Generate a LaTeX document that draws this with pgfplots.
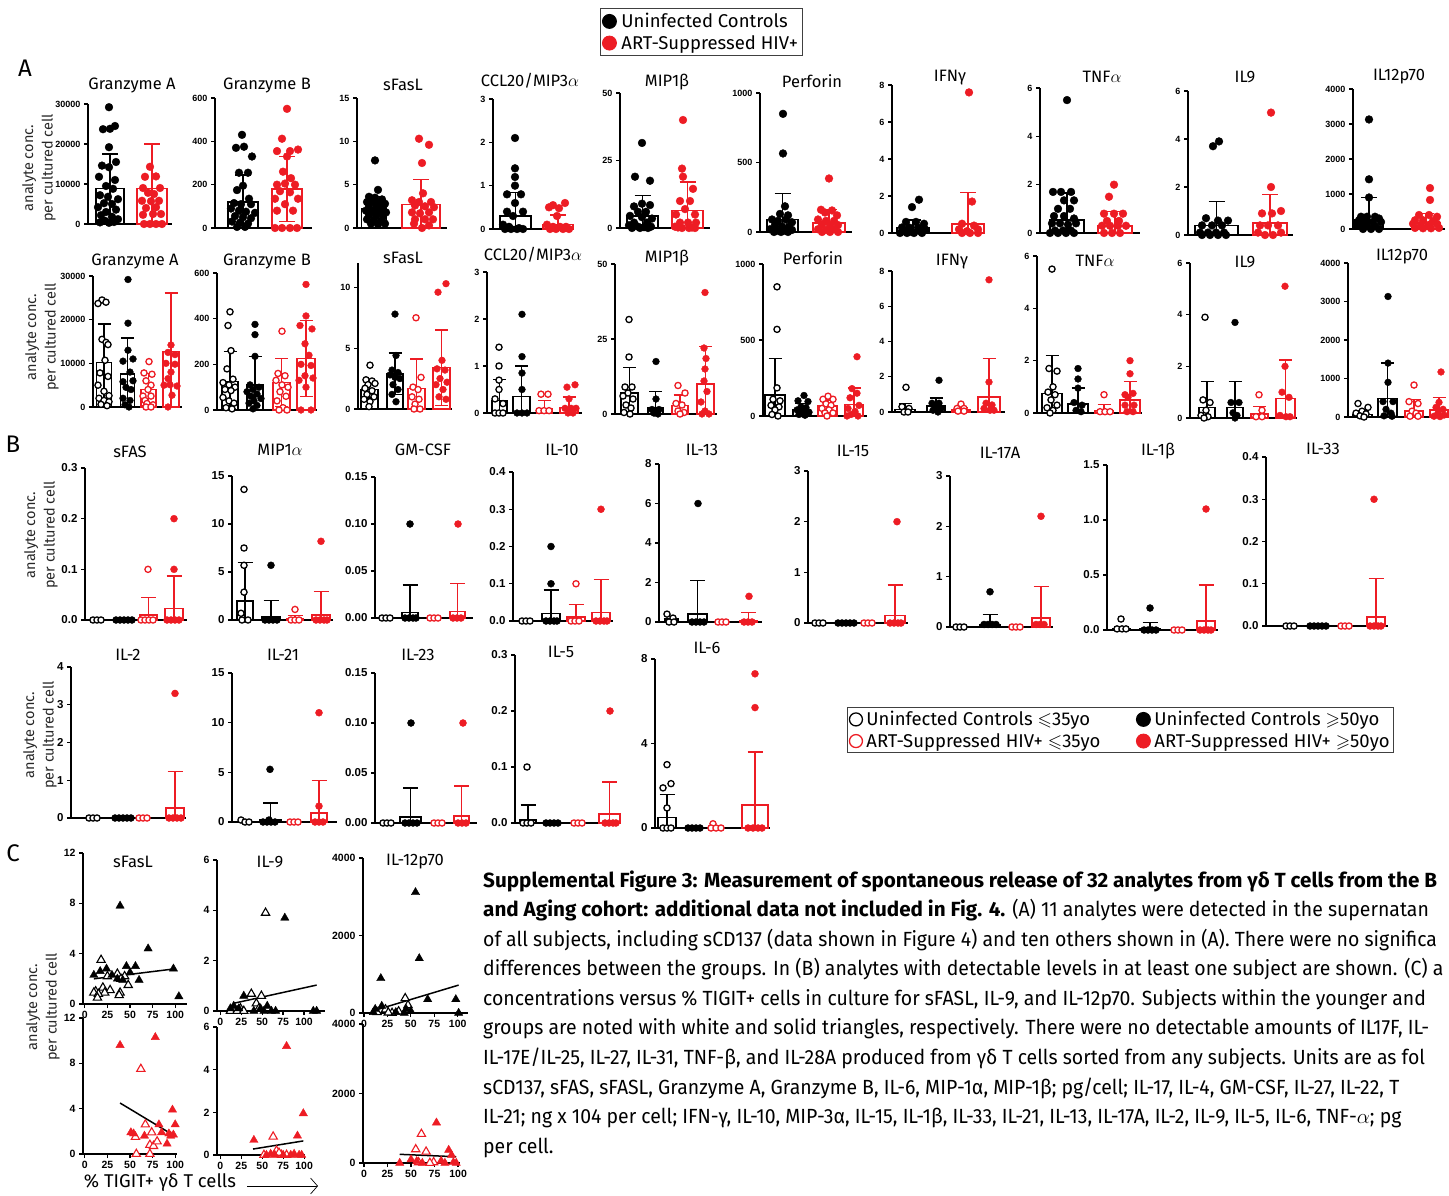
\documentclass[border=0pt]{standalone}
\usepackage{amssymb}
\usepackage{fontspec}
\usepackage{pgfplots}
\pgfplotsset{compat=1.18}
\usetikzlibrary{arrows.meta}
\setmainfont{Fira Sans}
\newfontfamily\tickf{Liberation Sans}
\newfontfamily\capf[FakeStretch=0.948, BoldFeatures={FakeStretch=1.008}]{Fira Sans}
\definecolor{myred}{RGB}{237,28,36}
\newcommand\tA{\tickf\bfseries\fontsize{9}{9}\selectfont}
\newcommand\tB{\tickf\bfseries\fontsize{11.5}{11.5}\selectfont}
\newcommand\tC{\tickf\bfseries\fontsize{10.5}{10.5}\selectfont}
\newcommand\ttl{\fontsize{16.5}{16.5}\selectfont}
\newcommand\ylab{\fontsize{14.5}{19.5}\selectfont}
\newcommand\legf{\fontsize{18.5}{20}\selectfont}
\newcommand\capfont{\capf\fontsize{20.5}{24}\selectfont}
\def\capsz{8pt}
\def\ms{3.9pt}
\def\mo{3.2pt}
\pgfplotsset{
 base/.style={scale only axis, anchor=south west, axis lines*=left, axis line style={line width=1.4pt, black}, tick align=outside, major tick length=4pt, every tick/.style={line width=1.3pt, black}, clip=false, ymin=0, scaled y ticks=false, scaled x ticks=false, /pgf/number format/assume math mode=true},
 pA/.style={base, xtick=\empty, yticklabel style={font=\tA}},
 pB/.style={base, xtick=\empty, yticklabel style={font=\tB}},
 pC/.style={base, xtick={0,25,50,75,100}, yticklabel style={font=\tC}, xticklabel style={font=\tC}},
 bp/.style n args={4}{at={(#1pt,-#2pt)}, width=#3pt, height=#4pt, xmin=0, xmax=#3},
 kb/.style={ybar, bar shift=0pt, draw=black, fill=white, line width=1.6pt, error bars/y dir=both, error bars/y explicit, error bars/error mark=|, error bars/error bar style={line width=1.3pt, black}, error bars/error mark options={line width=1.3pt, black, mark size=\capsz}},
 rb/.style={ybar, bar shift=0pt, draw=myred, fill=white, line width=1.6pt, error bars/y dir=both, error bars/y explicit, error bars/error mark=|, error bars/error bar style={line width=1.3pt, myred}, error bars/error mark options={line width=1.3pt, myred, mark size=\capsz}},
 kf/.style={only marks, mark=*, mark size=\ms, mark options={draw=black, fill=black}},
 ko/.style={only marks, mark=*, mark size=\mo, mark options={draw=black, fill=white, line width=1.3pt}},
 rf/.style={only marks, mark=*, mark size=\ms, mark options={draw=myred, fill=myred}},
 ro/.style={only marks, mark=*, mark size=\mo, mark options={draw=myred, fill=white, line width=1.3pt}},
 tkf/.style={only marks, mark=triangle*, mark size=4.8pt, mark options={draw=black, fill=black}},
 tko/.style={only marks, mark=triangle*, mark size=4.8pt, mark options={draw=black, fill=white, line width=1.1pt}},
 trf/.style={only marks, mark=triangle*, mark size=4.8pt, mark options={draw=myred, fill=myred}},
 tro/.style={only marks, mark=triangle*, mark size=4.8pt, mark options={draw=myred, fill=white, line width=1.1pt}},
 lC/.style={black, line width=1.5pt, no marks},
}
\newcommand\KB[5]{\addplot[kb,bar width=#2pt] coordinates {(#1,#3) += (0,#4) -= (0,#5)};}
\newcommand\RB[5]{\addplot[rb,bar width=#2pt] coordinates {(#1,#3) += (0,#4) -= (0,#5)};}
\newcommand\KF[1]{\addplot[kf] coordinates {#1};}
\newcommand\KO[1]{\addplot[ko] coordinates {#1};}
\newcommand\RF[1]{\addplot[rf] coordinates {#1};}
\newcommand\RO[1]{\addplot[ro] coordinates {#1};}
\begin{document}
\begin{tikzpicture}[x=1pt,y=1pt]
\path[use as bounding box] (0,0) rectangle (1449,-1196);
% ================= A row 1 =================
\begin{axis}[pA, bp={88}{224}{84}{120}, ymax=30000, ytick={0,10000,20000,30000}, yticklabels={0,10000,20000,30000}]
\KB{22}{28}{8900}{8600}{8600}
\KF{(21,29200) (27,24500) (15,23700) (22,23800) (21,19200) (28,15500) (14,14600) (21,14200) (11,11800) (27,11000) (18,9500) (25,8800) (12,7200) (20,6800) (30,6200) (16,5200) (24,5000) (10,4200) (28,3600) (18,3000) (13,2200) (24,1800) (30,1200) (17,800) (21,300) (26,500) (12,400)}
\RB{64}{30}{8900}{11100}{8900}
\RF{(62,14300) (57,11800) (68,11900) (55,9000) (72,9000) (60,7800) (66,7500) (54,5800) (63,5700) (71,5800) (58,4000) (68,4200) (55,2300) (65,2500) (73,2500) (56,0) (62,0) (68,0) (74,0)}
\end{axis}
\begin{axis}[pA, bp={215}{228}{97}{130}, ymax=600, ytick={0,200,400,600}, yticklabels={0,200,400,600}]
\KB{28}{30}{120}{125}{120}
\KF{(27,430) (21,370) (29,375) (37,330) (24,255) (33,255) (28,195) (22,175) (34,135) (19,115) (26,110) (36,110) (16,90) (24,80) (31,75) (40,70) (20,55) (28,50) (36,45) (17,30) (25,25) (33,20) (22,5) (30,5)}
\RB{72}{30}{180}{150}{150}
\RF{(72,550) (67,412) (62,355) (75,355) (83,362) (72,330) (68,260) (76,230) (62,200) (70,205) (80,200) (65,170) (75,165) (60,135) (83,135) (70,110) (62,80) (78,80) (60,0) (67,0) (75,0) (82,0)}
\end{axis}
\begin{axis}[pA, bp={357}{228}{90}{130}, ymax=15, ytick={0,5,10,15}, yticklabels={0,5,10,15}]
\KB{17}{25}{2.2}{1.4}{1.4}
\KF{(18,7.8) (21,4.4) (12,3.6) (18,3.5) (25,3.3) (10,3.0) (16,3.0) (22,2.9) (28,2.8) (12,2.5) (20,2.4) (26,2.3) (9,2.0) (15,2.0) (22,1.9) (29,1.8) (12,1.5) (19,1.4) (26,1.3) (10,1.0) (17,0.9) (24,0.8) (14,0.5) (21,0.4) (28,0.5)}
\RB{64}{38}{2.7}{2.9}{2.7}
\RF{(62,10.3) (72,9.6) (65,7.5) (66,4.0) (55,3.2) (62,3.0) (74,3.0) (58,2.6) (68,2.5) (77,2.4) (55,1.8) (63,1.7) (72,1.8) (58,1.0) (68,1.0) (76,1.0) (57,0.5) (65,0) (72,0.3)}
\end{axis}
\begin{axis}[pA, bp={493}{229}{80}{130}, ymax=3, ytick={0,1,2,3}, yticklabels={0,1,2,3}]
\KB{22.5}{31}{0.3}{0.55}{0.3}
\KF{(22,2.1) (22,1.4) (22,1.2) (22,1.0) (14,0.8) (28,0.8) (22,0.6) (14,0.4) (30,0.4) (20,0.3) (10,0.1) (16,0.05) (24,0) (30,0) (12,0) (18,0) (26,0.02)}
\RB{65}{30}{0.1}{0.22}{0.1}
\RF{(60,0.55) (72,0.6) (56,0.5) (66,0.48) (64,0.3) (54,0.1) (60,0.05) (67,0.05) (73,0.05) (57,0) (63,0) (70,0) (76,0)}
\end{axis}
\begin{axis}[pA, bp={620}{228}{90}{135}, ymax=50, ytick={0,25,50}, yticklabels={0,25,50}]
\KB{22.5}{31}{4.5}{7.5}{4.5}
\KF{(22,31.5) (15,19) (30,17.5) (22,9) (14,8) (30,8.5) (18,6) (26,6) (10,4.5) (22,4) (32,3.5) (14,2) (27,2) (9,1) (18,0.5) (24,0.3) (31,0.5) (12,0) (20,0) (28,0)}
\RB{67.5}{31}{6.5}{10.5}{6.5}
\RF{(63,40) (62,22) (63,19) (73,14.5) (60,10) (70,10) (65,7) (56,5) (75,5) (60,2) (68,2) (76,2) (55,0.5) (62,0) (69,0) (75,0) (58,0.2) (72,0.2)}
\end{axis}
\begin{axis}[pA, bp={760}{232}{92}{139}, ymax=1000, ytick={0,500,1000}, yticklabels={0,500,1000}]
\KB{22.5}{31}{90}{185}{90}
\KF{(23,850) (23,565) (25,185) (20,130) (28,120) (12,90) (18,80) (26,90) (32,70) (15,50) (22,40) (29,40) (10,20) (17,10) (25,10) (32,15) (14,0) (21,0) (28,0)}
\RB{69}{32}{65}{95}{65}
\RF{(69,385) (61,160) (72,155) (65,140) (77,120) (58,90) (66,80) (74,80) (62,55) (70,50) (78,50) (58,20) (66,15) (74,20) (62,0) (70,0) (78,0)}
\end{axis}
\begin{axis}[pA, bp={892}{233}{93}{148}, ymax=8, ytick={0,2,4,6,8}, yticklabels={0,2,4,6,8}]
\KB{21}{32}{0.3}{0.4}{0.3}
\KF{(27,1.8) (20,1.4) (14,0.6) (24,0.6) (32,0.5) (10,0.3) (17,0.3) (26,0.3) (33,0.2) (12,0.1) (20,0.05) (28,0.1) (8,0) (15,0) (22,0) (30,0)}
\RB{76}{32}{0.5}{1.7}{0.5}
\RF{(77,7.6) (80,1.7) (70,0.5) (82,0.4) (67,0.2) (75,0.1) (86,0.2) (70,0) (78,0) (86,0)}
\end{axis}
\begin{axis}[pA, bp={1040}{233}{100}{145}, ymax=6, ytick={0,2,4,6}, yticklabels={0,2,4,6}]
\KB{27}{34}{0.55}{1.1}{0.55}
\KF{(27,5.5) (13,1.7) (21,1.7) (31,1.7) (24,1.35) (34,1.35) (18,1.0) (30,1.0) (14,0.7) (24,0.7) (34,0.6) (12,0.4) (20,0.4) (28,0.35) (36,0.4) (15,0.1) (23,0.1) (31,0.1) (10,0) (18,0) (26,0) (34,0)}
\RB{75}{34}{0.3}{0.6}{0.3}
\RF{(74,2.0) (69,1.5) (64,0.8) (74,0.8) (83,0.8) (67,0.5) (79,0.5) (62,0.3) (70,0.3) (78,0.3) (86,0.3) (64,0) (72,0) (80,0)}
\end{axis}
\begin{axis}[pA, bp={1188}{235}{105}{144}, ymax=6, ytick={0,2,4,6}, yticklabels={0,2,4,6}]
\KB{28.5}{43}{0.4}{1.0}{0.4}
\KF{(25,3.7) (31,3.9) (18,0.7) (30,0.6) (40,0.6) (14,0.4) (24,0.4) (34,0.4) (12,0.1) (20,0.1) (28,0.1) (36,0.1) (14,0) (22,0) (30,0) (38,0)}
\RB{82}{34}{0.5}{1.2}{0.5}
\RF{(83,5.1) (83,2.0) (74,0.9) (84,0.9) (93,1.0) (72,0.4) (80,0.4) (90,0.4) (70,0.1) (77,0) (85,0) (93,0.1)}
\end{axis}
\begin{axis}[pA, bp={1353}{229}{92}{140}, ymax=4000, ytick={0,1000,2000,3000,4000}, yticklabels={0,1000,2000,3000,4000}]
\KB{16}{28}{250}{650}{250}
\KF{(16,3130) (16,1420) (16,900) (8,350) (14,350) (22,350) (26,300) (6,250) (12,200) (20,200) (28,200) (6,100) (14,80) (22,80) (10,0) (18,0) (26,0)}
\RB{73}{28}{170}{270}{170}
\RF{(77,1170) (77,830) (66,400) (76,400) (84,350) (62,250) (70,250) (80,230) (60,150) (68,120) (76,120) (84,150) (62,30) (70,20) (78,20) (86,30)}
\end{axis}
% ================= A row 2 =================
\def\capsz{6.5pt}
\def\ms{3.4pt}
\def\mo{3.1pt}
\begin{axis}[pA, bp={93}{407}{89}{131}, ymax=30000, ytick={0,10000,20000,30000}, yticklabels={0,10000,20000,30000}]
\KB{11}{15}{10200}{8800}{8800}
\KO{(9,24500) (5,23700) (13,24000) (9,15500) (13,14800) (15,14300) (12,10700) (7,7800) (15,7000) (5,5000) (11,3600) (16,2600) (6,2000) (11,1500) (16,1200) (8,600) (14,300)}
\KB{34.5}{14}{7500}{8300}{7500}
\KF{(35,29200) (35,19200) (35,13000) (40,11000) (30,10500) (37,8000) (30,5800) (40,6000) (33,4500) (38,4000) (30,2000) (37,1500) (32,500) (36,0)}
\RB{55.5}{15}{4000}{3700}{3700}
\RO{(56,10400) (51,7800) (59,7500) (53,6000) (58,5000) (55,4000) (50,2500) (58,2500) (52,1500) (54,800) (60,500) (53,0) (58,0)}
\RB{78}{16}{12700}{13400}{12700}
\RF{(78,14200) (75,12500) (82,12000) (73,10000) (82,9800) (78,8000) (75,6500) (71,5000) (84,4800) (77,5100) (79,2700) (75,0)}
\end{axis}
\begin{axis}[pA, bp={217}{410}{100}{137}, ymax=600, ytick={0,200,400,600}, yticklabels={0,200,400,600}]
\KB{13}{16}{125}{130}{125}
\KO{(13,430) (11,370) (14,260) (10,180) (16,135) (6,120) (12,110) (18,100) (8,90) (14,85) (6,55) (12,40) (17,30) (9,10) (15,5)}
\KB{38}{16}{110}{125}{110}
\KF{(38,375) (38,330) (38,235) (33,110) (42,100) (36,90) (30,80) (40,70) (34,60) (44,50) (37,40) (32,30) (40,20) (36,5)}
\RB{64.5}{17}{120}{105}{105}
\RO{(65,345) (61,160) (68,150) (59,130) (65,110) (71,100) (63,80) (69,60) (60,40) (66,10) (62,0) (70,0)}
\RB{89}{18}{225}{168}{165}
\RF{(89,550) (89,412) (83,370) (95,355) (88,290) (92,240) (84,200) (94,195) (88,150) (82,130) (96,140) (89,100) (84,0) (94,0)}
\end{axis}
\begin{axis}[pA, bp={358}{409}{94}{146}, ymax=12, ytick={0,5,10}, yticklabels={0,5,10}]
\KB{11.5}{17}{1.6}{0.7}{0.7}
\KO{(12,3.6) (8,2.4) (14,2.3) (17,2.1) (10,2.0) (7,1.7) (14,1.5) (9,1.2) (16,1.0) (6,0.8) (12,0.6) (11,0.2)}
\KB{37}{16}{2.9}{1.7}{1.7}
\KF{(37,7.8) (38,4.4) (34,3.2) (40,3.0) (32,2.8) (37,2.6) (42,2.5) (35,2.0) (40,1.6) (34,1.2) (38,0.6)}
\RB{58.5}{17}{1.7}{2.4}{1.7}
\RO{(58,7.5) (63,2.6) (55,1.8) (60,1.6) (54,1.0) (61,0.8) (57,0.4) (62,0) (56,0)}
\RB{83.5}{17}{3.4}{3.1}{3.1}
\RF{(80,9.6) (88,10.3) (84,4.0) (79,3.3) (87,3.2) (82,2.5) (89,2.2) (78,2.0) (85,1.6) (81,1.0) (88,0.8)}
\end{axis}
\begin{axis}[pA, bp={487}{413}{95}{141}, ymax=3, ytick={0,1,2,3}, yticklabels={0,1,2,3}]
\KB{12.5}{15}{0.27}{0.45}{0.27}
\KO{(12,1.4) (12,1.0) (12,0.7) (12,0.5) (8,0.3) (16,0.2) (8,0) (12,0) (16,0)}
\KB{34.5}{17}{0.35}{0.65}{0.35}
\KF{(35,2.1) (35,1.2) (35,0.85) (35,0.5) (30,0) (35,0) (40,0)}
\RB{57.5}{15}{0.1}{0.17}{0.1}
\RO{(54,0.4) (61,0.4) (52,0.05) (57,0.05) (62,0.05)}
\RB{82}{18}{0.12}{0.22}{0.12}
\RF{(80,0.55) (88,0.6) (82,0.3) (78,0.1) (84,0.1) (89,0.1) (81,0) (86,0)}
\end{axis}
\begin{axis}[pA, bp={615}{414}{102}{150}, ymax=50, ytick={0,25,50}, yticklabels={0,25,50}]
\KB{14.5}{17}{7}{8.5}{7}
\KO{(14,31.5) (14,19) (10,9) (17,9) (13,7) (8,6) (18,5) (11,3) (16,2) (9,0.5) (15,0)}
\KB{40.5}{15}{2.2}{5.2}{2.2}
\KF{(41,17.5) (41,5) (37,1.5) (44,1.5) (39,0.3) (43,0)}
\RB{65}{16}{2.8}{3.5}{2.8}
\RO{(63,9.5) (70,7) (61,3.5) (67,3) (63,1) (69,0.5) (65,0)}
\RB{90.5}{17}{10}{12.5}{10}
\RF{(90,40.5) (89,22) (91,18.5) (90,15) (89,11) (92,7.5) (86,4) (90,1) (94,0) (87,0)}
\end{axis}
\begin{axis}[pA, bp={763}{416}{104}{152}, ymax=1000, ytick={0,500,1000}, yticklabels={0,500,1000}]
\KB{12}{20}{140}{240}{140}
\KO{(14,850) (14,570) (14,185) (10,110) (17,100) (8,70) (16,60) (12,40) (9,10) (15,0)}
\KB{38.5}{17}{40}{40}{40}
\KF{(41,135) (35,100) (45,95) (38,60) (43,55) (34,40) (40,30) (46,25) (36,10) (42,5)}
\RB{64.5}{19}{65}{40}{40}
\RO{(65,130) (60,110) (70,110) (63,80) (68,70) (59,50) (66,40) (62,20) (70,20) (64,0)}
\RB{91}{18}{75}{110}{75}
\RF{(94,390) (89,180) (94,150) (87,120) (96,70) (85,50) (92,30) (88,10) (95,0) (84,0)}
\end{axis}
\begin{axis}[pA, bp={892}{412}{113}{141}, ymax=8, ytick={0,2,4,6,8}, yticklabels={0,2,4,6,8}]
\KB{13}{20}{0.15}{0.35}{0.15}
\KO{(14,1.4) (10,0.3) (17,0.2) (12,0) (16,0)}
\KB{44}{18}{0.35}{0.45}{0.35}
\KF{(47,1.8) (40,0.5) (47,0.5) (43,0.3) (49,0.2) (41,0.1) (46,0)}
\RB{69}{18}{0.1}{0.15}{0.1}
\RO{(69,0.45) (65,0.2) (72,0.2) (66,0.05) (72,0.05)}
\RB{97}{22}{0.85}{2.2}{0.85}
\RF{(97,7.5) (97,1.7) (94,0.5) (100,0.4) (92,0.2) (98,0.1) (102,0.1)}
\end{axis}
\begin{axis}[pA, bp={1037}{413}{105}{157}, ymax=6, ytick={0,2,4,6}, yticklabels={0,2,4,6}]
\KB{15}{20}{0.75}{1.45}{0.75}
\KO{(15,5.5) (12,1.7) (20,1.6) (16,1.0) (11,0.8) (18,0.7) (14,0.5) (20,0.3) (10,0.2) (16,0.1) (13,0)}
\KB{41}{20}{0.35}{0.6}{0.35}
\KF{(41,1.7) (41,1.3) (41,0.95) (37,0.4) (45,0.3) (39,0.1) (44,0.05)}
\RB{67}{18}{0.1}{0.22}{0.1}
\RO{(67,0.7) (63,0.05) (68,0.05) (73,0.05)}
\RB{93}{20}{0.5}{0.7}{0.5}
\RF{(93,2.0) (93,1.5) (88,0.7) (96,0.75) (91,0.6) (88,0.3) (97,0.3) (90,0.05) (96,0.05)}
\end{axis}
\begin{axis}[pA, bp={1190}{418}{107}{155}, ymax=6, ytick={0,2,4,6}, yticklabels={0,2,4,6}]
\KB{17}{16}{0.4}{1.0}{0.4}
\KO{(15,3.9) (13,0.7) (20,0.6) (16,0.3) (11,0.1) (18,0.05) (14,0)}
\KB{45}{16}{0.4}{1.0}{0.4}
\KF{(45,3.7) (41,0.6) (49,0.6) (43,0.2) (47,0.1) (45,0)}
\RB{69.5}{17}{0.15}{0.3}{0.15}
\RO{(69,0.9) (72,0.3) (66,0.05) (72,0.05)}
\RB{95.5}{19}{0.75}{1.5}{0.75}
\RF{(95,5.1) (95,2.0) (92,1.0) (99,0.8) (90,0.1) (96,0.05) (100,0.05)}
\end{axis}
\begin{axis}[pA, bp={1348}{417}{101}{154}, ymax=4000, ytick={0,1000,2000,3000,4000}, yticklabels={0,1000,2000,3000,4000}]
\KB{14.5}{19}{60}{100}{60}
\KO{(10,350) (20,250) (14,150) (8,100) (18,80) (12,30) (16,0)}
\KB{39.5}{19}{480}{920}{480}
\KF{(40,3130) (40,1400) (40,900) (35,400) (45,400) (38,200) (43,100) (36,30) (44,20)}
\RB{66}{18}{160}{290}{160}
\RO{(66,830) (61,400) (70,350) (64,150) (68,100) (62,20) (70,20)}
\RB{91}{18}{180}{330}{180}
\RF{(93,1170) (91,380) (88,250) (95,200) (90,100) (96,50) (86,20) (92,10)}
\end{axis}
% ================= B row 1 =================
\def\capsz{7.5pt}
\def\ms{3.5pt}
\def\mo{3.1pt}
\begin{axis}[pB, bp={85}{620}{102}{152}, ymax=0.3, ytick={0,0.1,0.2,0.3}, yticklabels={0.0,0.1,0.2,0.3}]
\KO{(8,0) (12,0) (16,0)}
\KF{(31,0) (35,0) (39,0) (43,0) (47,0)}
\RB{63.5}{17}{0.01}{0.034}{0.01}
\RO{(63,0.1) (56,0) (60,0) (64,0) (68,0)}
\RB{89}{18}{0.023}{0.064}{0.023}
\RF{(89,0.2) (89,0.1) (82,0) (86,0) (90,0) (94,0)}
\end{axis}
\begin{axis}[pB, bp={232}{620}{101}{144}, ymax=15, ytick={0,5,10,15}, yticklabels={0,5,10,15}]
\KB{13}{16}{2.0}{4.0}{2.0}
\KO{(12,13.6) (12,7.5) (12,5.7) (12,2.9) (9,0.7) (10,0) (16,0)}
\KB{39}{18}{0.35}{1.65}{0.35}
\KF{(39,5.7) (33,0) (37,0) (41,0) (45,0)}
\RB{63}{16}{0.1}{0.35}{0.1}
\RO{(63,1.1) (59,0) (63,0) (67,0)}
\RB{89}{18}{0.5}{2.5}{0.5}
\RF{(89,8.2) (84,0) (88,0) (92,0) (95,0)}
\end{axis}
\begin{axis}[pB, bp={375}{618}{98}{141}, ymax=0.15, ytick={0,0.05,0.1,0.15}, yticklabels={0.00,0.05,0.10,0.15}]
\KO{(7,0) (11,0) (15,0)}
\KB{35}{16}{0.006}{0.029}{0.006}
\KF{(35,0.1) (30,0) (34,0) (38,0) (41,0)}
\RO{(55,0) (59,0) (63,0)}
\RB{82.5}{15}{0.007}{0.030}{0.007}
\RF{(83,0.1) (78,0) (82,0) (86,0)}
\end{axis}
\begin{axis}[pB, bp={513}{621}{100}{149}, ymax=0.4, ytick={0,0.1,0.2,0.3,0.4}, yticklabels={0.0,0.1,0.2,0.3,0.4}]
\KO{(9,0) (13,0) (17,0)}
\KB{38}{18}{0.02}{0.063}{0.02}
\KF{(38,0.2) (38,0.1) (33,0) (37,0) (41,0) (44,0)}
\RB{63}{18}{0.01}{0.035}{0.01}
\RO{(63,0.1) (58,0) (62,0) (66,0)}
\RB{88}{18}{0.023}{0.088}{0.023}
\RF{(88,0.3) (83,0) (87,0) (91,0) (94,0)}
\end{axis}
\begin{axis}[pB, bp={659}{622}{103}{158}, ymax=8, ytick={0,2,4,6,8}, yticklabels={0,2,4,6,8}]
\KB{12}{12}{0.1}{0.05}{0.05}
\KO{(8,0.4) (14,0.2) (10,0) (15,0)}
\KB{38.5}{19}{0.4}{1.7}{0.4}
\KF{(39,6.0) (33,0) (37,0) (41,0) (45,0)}
\RO{(59,0) (63,0) (67,0)}
\RB{89.5}{17}{0.08}{0.4}{0.08}
\RF{(90,1.3) (85,0) (89,0) (93,0)}
\end{axis}
\begin{axis}[pB, bp={808}{623}{100}{152}, ymax=3, ytick={0,1,2,3}, yticklabels={0,1,2,3}]
\KO{(7,0) (11,0) (15,0)}
\KF{(30,0) (34,0) (38,0) (42,0) (46,0)}
\RO{(56,0) (60,0) (64,0)}
\RB{87}{20}{0.15}{0.6}{0.15}
\RF{(89,2.0) (82,0) (86,0) (90,0) (93,0)}
\end{axis}
\begin{axis}[pB, bp={950}{627}{103}{151}, ymax=3, ytick={0,1,2,3}, yticklabels={0,1,2,3}]
\KO{(6,0) (10,0) (14,0)}
\KB{40}{20}{0.05}{0.2}{0.05}
\KF{(40,0.7) (34,0.05) (38,0.05) (42,0.05) (46,0.05)}
\RO{(62,0) (66,0) (70,0)}
\RB{91}{18}{0.18}{0.63}{0.18}
\RF{(91,2.2) (86,0.05) (90,0.05) (94,0.05)}
\end{axis}
\begin{axis}[pB, bp={1107}{630}{111}{165}, ymax=1.5, ytick={0,0.5,1,1.5}, yticklabels={0.0,0.5,1.0,1.5}]
\KB{14.5}{17}{0.01}{0.02}{0.01}
\KO{(14,0.1) (10,0.01) (15,0.01) (19,0.01)}
\KB{43}{20}{0.01}{0.06}{0.01}
\KF{(43,0.2) (37,0) (41,0) (45,0) (49,0)}
\RO{(67,0) (71,0) (75,0)}
\RB{99}{18}{0.08}{0.33}{0.08}
\RF{(99,1.1) (93,0) (97,0) (101,0) (104,0)}
\end{axis}
\begin{axis}[pB, bp={1266}{626}{122}{169}, ymax=0.4, ytick={0,0.1,0.2,0.3,0.4}, yticklabels={0.0,0.1,0.2,0.3,0.4}]
\KO{(20,0) (24,0) (28,0)}
\KF{(44,0) (48,0) (52,0) (56,0) (60,0)}
\RO{(75,0) (79,0) (83,0)}
\RB{110}{18}{0.022}{0.09}{0.022}
\RF{(108,0.3) (104,0) (108,0) (112,0) (115,0)}
\end{axis}
% ================= B row 2 =================
\begin{axis}[pB, bp={71}{818}{115}{151}, ymax=4, ytick={0,1,2,3,4}, yticklabels={0,1,2,3,4}]
\KO{(18,0) (22,0) (26,0)}
\KF{(44,0) (48,0) (52,0) (56,0) (60,0)}
\RO{(68,0) (72,0) (76,0)}
\RB{104}{18}{0.27}{0.96}{0.27}
\RF{(104,3.3) (98,0) (102,0) (106,0) (110,0)}
\end{axis}
\begin{axis}[pB, bp={232}{822}{105}{149}, ymax=15, ytick={0,5,10,15}, yticklabels={0,5,10,15}]
\KO{(9,0.2) (13,0) (17,0)}
\KB{38.5}{22}{0.2}{1.7}{0.2}
\KF{(38,5.3) (31,0) (35,0) (39,0) (43,0) (37,0.2)}
\RO{(58,0) (62,0) (66,0)}
\RB{87}{16}{0.9}{3.3}{0.9}
\RF{(87,11) (87,1.6) (83,0) (87,0) (91,0)}
\end{axis}
\begin{axis}[pB, bp={375}{823}{102}{150}, ymax=0.15, ytick={0,0.05,0.1,0.15}, yticklabels={0.00,0.05,0.10,0.15}]
\KO{(8,0) (12,0) (16,0)}
\KB{35.5}{21}{0.006}{0.029}{0.006}
\KF{(36,0.1) (30,0) (34,0) (38,0) (42,0)}
\RO{(59,0) (63,0) (67,0)}
\RB{86.5}{15}{0.007}{0.030}{0.007}
\RF{(88,0.1) (83,0) (87,0) (91,0)}
\end{axis}
\begin{axis}[pB, bp={515}{823}{105}{168}, ymax=0.3, ytick={0,0.1,0.2,0.3}, yticklabels={0.0,0.1,0.2,0.3}]
\KB{13}{16}{0.005}{0.027}{0.005}
\KO{(12,0.1) (8,0) (12,0) (16,0)}
\KF{(31,0) (35,0) (39,0) (43,0)}
\RO{(59,0) (63,0) (67,0)}
\RB{94.5}{21}{0.016}{0.057}{0.016}
\RF{(95,0.2) (90,0) (94,0) (98,0) (101,0)}
\end{axis}
\begin{axis}[pB, bp={655}{828}{115}{169}, ymax=8, ytick={0,4,8}, yticklabels={0,4,8}]
\KB{12}{18}{0.5}{1.1}{0.5}
\KO{(12,3.0) (8,1.9) (16,2.1) (12,0.95) (8,0) (12,0) (16,0)}
\KF{(33,0) (37,0) (41,0) (45,0)}
\RO{(58,0.2) (56,0) (61,0) (66,0)}
\RB{100}{26}{1.1}{2.5}{1.1}
\RF{(100,7.3) (100,5.7) (93,0) (98,0) (103,0) (107,0)}
\end{axis}
% ================= C =================
\begin{axis}[pC, at={(83pt,-1004pt)}, width=104pt, height=151pt, xmin=-2, xmax=113, ymax=12, ytick={0,4,8,12}, yticklabels={0,4,8,12}, xticklabel={}]
\addplot[lC] coordinates {(10,2.0) (100,2.8)};
\addplot[tko] coordinates {(18,3.5) (36,2.4) (25,2.2) (44,2.2) (40,2.0) (48,1.5) (20,1.3) (28,1.1) (12,1.0) (10,0.9) (22,0.9) (15,0.8) (39,0.9) (38,0.7) (14,0.5)};
\addplot[tkf] coordinates {(39,7.8) (70,4.4) (46,3.0) (56,3.0) (24,2.8) (17,2.6) (10,2.3) (98,2.8) (60,1.9) (42,1.9) (104,0.6) (30,2.3) (50,2.5) (36,2.0)};
\end{axis}
\begin{axis}[pC, at={(83pt,-1154pt)}, width=94pt, height=136pt, xmin=-2, xmax=102, ymax=12, ytick={0,4,8,12}, yticklabels={0,4,8,12}, xticklabels={0,25,50,75,100}]
\addplot[lC] coordinates {(39,4.5) (91,2.0)};
\addplot[tro] coordinates {(62,7.5) (67,2.6) (74,1.9) (56,1.5) (72,0.8) (76,0.7) (80,1.1) (57,0) (72,0)};
\addplot[trf] coordinates {(39,9.6) (78,10.3) (97,3.9) (51,1.9) (54,1.8) (66,1.6) (82,2.6) (85,1.9) (91,0.9) (93,1.8) (95,1.6) (98,1.7) (100,2.6)};
\end{axis}
\begin{axis}[pC, at={(217pt,-1011pt)}, width=108pt, height=151pt, xmin=-4, xmax=125, ymax=6, ytick={0,2,4,6}, yticklabels={0,2,4,6}, xticklabel={}]
\addplot[lC] coordinates {(15,0.3) (115,1.03)};
\addplot[tko] coordinates {(54,3.9) (37,0.68) (49,0.6) (43,0.3) (24,0.1) (12,0) (20,0) (28,0) (46,0.1)};
\addplot[tkf] coordinates {(77,3.7) (28,0.6) (56,0.2) (66,0) (111,0) (115,0) (16,0.2) (40,0) (48,0.1) (12,0.1) (61,0) (22,0.1) (52,0)};
\end{axis}
\begin{axis}[pC, at={(217pt,-1155pt)}, width=88pt, height=128pt, xmin=-4, xmax=101, ymax=6, ytick={0,2,4,6}, yticklabels={0,2,4,6}, xticklabels={0,25,50,75,100}]
\addplot[lC] coordinates {(39,0.28) (99,0.66)};
\addplot[tro] coordinates {(63,0.86) (67,0.2) (52,0) (73,0) (79,0) (70,0.1)};
\addplot[trf] coordinates {(79,5.1) (99,1.95) (92,0.9) (40,0.7) (55,0) (60,0.05) (75,0) (84,0) (88,0.05) (94,0) (97,0) (65,0)};
\end{axis}
\begin{axis}[pC, at={(363pt,-1013pt)}, width=105pt, height=155pt, xmin=-1, xmax=111, ymax=4000, ytick={0,2000,4000}, yticklabels={0,2000,4000}, xticklabel={}]
\addplot[lC] coordinates {(13,80) (101,720)};
\addplot[tko] coordinates {(44,380) (47,200) (23,90) (14,20) (30,0) (37,40) (26,10)};
\addplot[tkf] coordinates {(55,3115) (59,1410) (18,895) (68,352) (98,352) (101,0) (12,100) (19,180) (45,100) (43,0) (10,20) (34,20) (50,50)};
\end{axis}
\begin{axis}[pC, at={(363pt,-1163pt)}, width=97pt, height=139pt, xmin=-1, xmax=102, ymax=4000, ytick={0,2000,4000}, yticklabels={0,2000,4000}, xticklabels={0,25,50,75,100}]
\addplot[lC] coordinates {(38,250) (98,180)};
\addplot[tro] coordinates {(61,835) (55,393) (66,325) (58,20) (74,20) (70,0)};
\addplot[trf] coordinates {(77,1160) (90,374) (93,230) (38,0) (50,100) (62,0) (82,60) (95,20) (98,0) (56,50) (86,0)};
\end{axis}
% ================= legends =================
\begin{axis}[hide axis, scale only axis, width=5pt, height=5pt, xmin=0, xmax=1, ymin=0, ymax=1, at={(600pt,-8pt)}, anchor=north west,
 legend style={at={(0,1)}, anchor=north west, draw=black!75, line width=0.9pt, font=\legf, inner xsep=2pt, inner ysep=3pt, row sep=2pt, legend cell align=left, /tikz/column 1/.style={column sep=3pt}}]
\addlegendimage{only marks, mark=*, mark size=7pt, black}
\addlegendentry{Uninfected Controls}
\addlegendimage{only marks, mark=*, mark size=7pt, myred}
\addlegendentry{ART-Suppressed HIV+}
\end{axis}
\begin{axis}[hide axis, scale only axis, width=5pt, height=5pt, xmin=0, xmax=1, ymin=0, ymax=1, at={(847pt,-707pt)}, anchor=north west,
 legend columns=2,
 legend style={at={(0,1)}, anchor=north west, draw=black!75, line width=0.9pt, font=\legf, inner xsep=2pt, inner ysep=2pt, row sep=2pt, legend cell align=left, /tikz/column 1/.style={column sep=2pt}, /tikz/column 2/.style={column sep=34pt}, /tikz/column 3/.style={column sep=2pt}}]
\addlegendimage{only marks, mark=*, mark size=6.5pt, mark options={draw=black, fill=white, line width=1.3pt}}
\addlegendentry{Uninfected Controls $\leqslant$35yo}
\addlegendimage{only marks, mark=*, mark size=7pt, black}
\addlegendentry{Uninfected Controls $\geqslant$50yo}
\addlegendimage{only marks, mark=*, mark size=6.5pt, mark options={draw=myred, fill=white, line width=1.3pt}}
\addlegendentry{ART-Suppressed HIV+ $\leqslant$35yo}
\addlegendimage{only marks, mark=*, mark size=7pt, myred}
\addlegendentry{ART-Suppressed HIV+ $\geqslant$50yo}
\end{axis}
% ================= text =================
\node[font=\fontsize{24}{24}\selectfont] at (25,-68) {A};
\node[font=\fontsize{24}{24}\selectfont] at (13,-444) {B};
\node[font=\fontsize{24}{24}\selectfont] at (13,-853) {C};
\begin{scope}[every node/.style={font=\ttl}]
\node at (132,-85) {Granzyme A};
\node at (267,-85) {Granzyme B};
\node at (403,-85) {sFasL};
\node at (530,-81) {CCL20/MIP3$\alpha$};
\node at (667,-82) {MIP1β};
\node at (812,-81) {Perforin};
\node at (950,-78) {IFNγ};
\node at (1102,-77) {TNF$\alpha$};
\node at (1245,-77) {IL9};
\node at (1399,-77) {IL12p70};
\node at (135,-261) {Granzyme A};
\node at (267,-261) {Granzyme B};
\node at (403,-258) {sFasL};
\node at (533,-255) {CCL20/MIP3$\alpha$};
\node at (667,-258) {MIP1β};
\node at (813,-258) {Perforin};
\node at (952,-262) {IFNγ};
\node at (1095,-261) {TNF$\alpha$};
\node at (1245,-262) {IL9};
\node at (1402,-257) {IL12p70};
\node at (130,-452) {sFAS};
\node at (280,-450) {MIP1$\alpha$};
\node at (423,-450) {GM-CSF};
\node at (562,-450) {IL-10};
\node at (702,-450) {IL-13};
\node at (853,-451) {IL-15};
\node at (1000,-453) {IL-17A};
\node at (1158,-451) {IL-1β};
\node at (1323,-449) {IL-33};
\node at (128,-655) {IL-2};
\node at (283,-655) {IL-21};
\node at (418,-655) {IL-23};
\node at (561,-652) {IL-5};
\node at (707,-648) {IL-6};
\node at (133,-862) {sFasL};
\node at (270,-862) {IL-9};
\node at (415,-862) {IL-12p70};
\end{scope}
\begin{scope}[every node/.style={font=\ylab, rotate=90, align=center, text=black!85}]
\node at (39,-168) {analyte conc.\\per cultured cell};
\node at (42,-337) {analyte conc.\\per cultured cell};
\node at (41,-535) {analyte conc.\\per cultured cell};
\node at (40,-735) {analyte conc.\\per cultured cell};
\node at (43,-1007) {analyte conc.\\per cultured cell};
\end{scope}
\node[font=\fontsize{18.5}{18.5}\selectfont] at (160,-1183) {\% TIGIT+ γδ T cells};
\draw[line width=0.7pt, -{Straight Barb[length=7pt,width=16pt]}] (247,-1186) -- (318,-1186);
\begin{scope}[every node/.style={font=\capfont, anchor=base west, inner sep=0pt}]
\node at (483,-887) {\bfseries Supplemental Figure 3: Measurement of spontaneous release of 32 analytes from γδ T cells from the B};
\node at (483,-916) {{\bfseries and Aging cohort: additional data not included in Fig. 4.} (A) 11 analytes were detected in the supernatan};
\node at (483,-946) {of all subjects, including sCD137 (data shown in Figure 4) and ten others shown in (A). There were no significa};
\node at (483,-975) {differences between the groups. In (B) analytes with detectable levels in at least one subject are shown. (C) a};
\node at (483,-1005) {concentrations versus \% TIGIT+ cells in culture for sFASL, IL-9, and IL-12p70. Subjects within the younger and};
\node at (483,-1034) {groups are noted with white and solid triangles, respectively. There were no detectable amounts of IL17F, IL-};
\node at (483,-1064) {IL-17E/IL-25, IL-27, IL-31, TNF-β, and IL-28A produced from γδ T cells sorted from any subjects. Units are as fol};
\node at (483,-1094) {sCD137, sFAS, sFASL, Granzyme A, Granzyme B, IL-6, MIP-1α, MIP-1β; pg/cell; IL-17, IL-4, GM-CSF, IL-27, IL-22, T};
\node at (483,-1123) {IL-21; ng x 104 per cell; IFN-γ, IL-10, MIP-3α, IL-15, IL-1β, IL-33, IL-21, IL-13, IL-17A, IL-2, IL-9, IL-5, IL-6, TNF-$\alpha$; pg};
\node at (483,-1153) {per cell.};
\end{scope}
\end{tikzpicture}
\end{document}
